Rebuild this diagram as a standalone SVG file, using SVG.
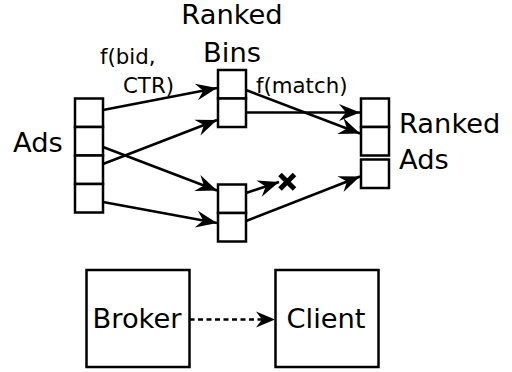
<svg xmlns="http://www.w3.org/2000/svg" width="512" height="372" viewBox="0 0 512 372">
  <style>
    .cell { fill: #fff; stroke: #000; stroke-width: 2.5; }
    .big { font-family: "DejaVu Sans", sans-serif; font-size: 27.3px; fill: #000; }
    .small { font-family: "DejaVu Sans", sans-serif; font-size: 21.3px; fill: #000; }
    .edge { fill: none; stroke: #000; stroke-width: 2.5; marker-end: url(#ah); }
  </style>
  <defs>
    <marker id="ah" markerUnits="userSpaceOnUse" markerWidth="24" markerHeight="20" viewBox="-23 -10 24 20" refX="0" refY="0" orient="auto">
      <path d="M0,0 L-21,-8.5 L-14,0 L-21,8.5 z" fill="#000"/>
    </marker>
  </defs>
  <rect width="512" height="372" fill="#fff"/>

  <!-- input ads column -->
  <g id="ads">
    <rect class="cell" x="75" y="98.5" width="28" height="28.5"/>
    <rect class="cell" x="75" y="127" width="28" height="28.5"/>
    <rect class="cell" x="75" y="155.5" width="28" height="28.5"/>
    <rect class="cell" x="75" y="184" width="28" height="28.5"/>
    <text class="big" x="13" y="151.5">Ads</text>
  </g>

  <!-- ranked bins -->
  <g id="bin-top">
    <rect class="cell" x="218" y="70" width="28" height="28.5"/>
    <rect class="cell" x="218" y="98.5" width="28" height="28.5"/>
  </g>
  <g id="bin-bottom">
    <rect class="cell" x="218" y="184.5" width="28" height="28.5"/>
    <rect class="cell" x="218" y="213" width="28" height="28.5"/>
  </g>
  <g id="bins-label">
    <text class="big" x="232" y="24" text-anchor="middle">Ranked</text>
    <text class="big" x="232" y="61.5" text-anchor="middle">Bins</text>
  </g>

  <!-- ranked output ads -->
  <g id="ranked-ads">
    <rect class="cell" x="361" y="98.5" width="28" height="28.5"/>
    <rect class="cell" x="361" y="127" width="28" height="28.5"/>
    <rect class="cell" x="361" y="159.5" width="28" height="28.5"/>
    <text class="big" x="399" y="133">Ranked</text>
    <text class="big" x="399" y="168.5">Ads</text>
  </g>

  <!-- dropped ad -->
  <g id="drop" stroke="#000" stroke-width="5" stroke-linecap="butt">
    <line x1="280" y1="174.5" x2="294.5" y2="189"/>
    <line x1="294.5" y1="174.5" x2="280" y2="189"/>
  </g>

  <g id="broker">
    <rect class="cell" x="86.5" y="270" width="103" height="97"/>
    <text class="big" x="137" y="327.5" text-anchor="middle">Broker</text>
  </g>
  <g id="client">
    <rect class="cell" x="275.5" y="270" width="103" height="97"/>
    <text class="big" x="326" y="327.5" text-anchor="middle">Client</text>
  </g>

  <!-- connectors -->
  <g id="connectors">
    <line class="edge" x1="103" y1="110" x2="217" y2="88"/>
    <line class="edge" x1="103" y1="164" x2="217" y2="120"/>
    <line class="edge" x1="103" y1="147" x2="217" y2="190.5"/>
    <line class="edge" x1="103" y1="202" x2="217" y2="223"/>
    <line class="edge" x1="246" y1="90" x2="360" y2="133.5"/>
    <line class="edge" x1="246" y1="112.5" x2="360" y2="112.5"/>
    <line class="edge" x1="246" y1="193" x2="279" y2="182"/>
    <line class="edge" x1="246" y1="221" x2="360" y2="176.5"/>
    <line x1="189.5" y1="319.5" x2="262" y2="319.5" stroke="#000" stroke-width="2.5" stroke-dasharray="5,3.5"/>
    <path d="M275,319.5 L256,311.5 L262,319.5 L256,327.5 z" fill="#000"/>
  </g>

  <!-- edge labels -->
  <g id="labels">
    <text class="small" x="100" y="63.5">f(bid,</text>
    <text class="small" x="123" y="93">CTR)</text>
    <text class="small" x="256" y="93">f(match)</text>
  </g>
</svg>
